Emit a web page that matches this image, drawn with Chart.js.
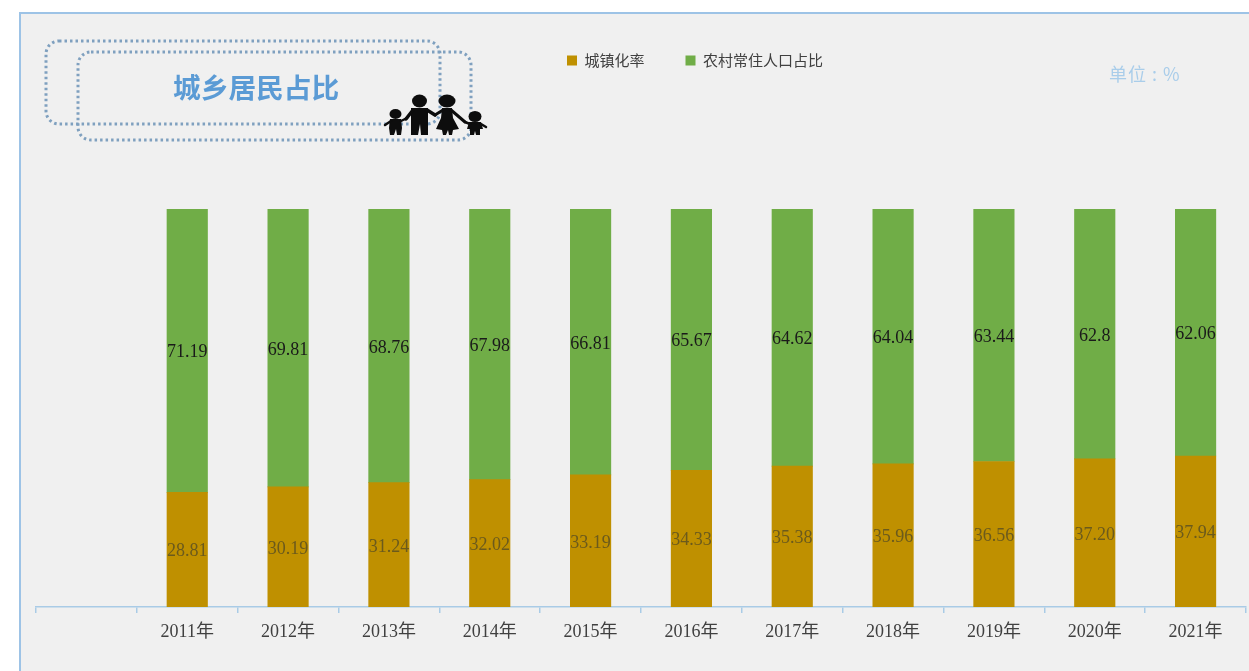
<!DOCTYPE html>
<html lang="zh">
<head>
<meta charset="utf-8">
<title>城乡居民占比</title>
<style>
html,body{margin:0;padding:0;background:#fff;overflow:hidden}
canvas{display:block;filter:blur(0.45px)}
</style>
<script src="https://cdn.jsdelivr.net/npm/chart.js@4"></script>
</head>
<body>
<canvas id="c" width="1249" height="671"></canvas>
<script>
const categories = ['', '2011年','2012年','2013年','2014年','2015年','2016年','2017年','2018年','2019年','2020年','2021年'];
const urbanRate = [null,28.81,30.19,31.24,32.02,33.19,34.33,35.38,35.96,36.56,37.20,37.94];
const ruralShare = [null,71.19,69.81,68.76,67.98,66.81,65.67,64.62,64.04,63.44,62.8,62.06];
const seriesNames = ['城镇化率','农村常住人口占比'];
const chartTitle = '城乡居民占比';
const unitText = '单位 : %';

const SERIF = '"Liberation Serif","Noto Sans CJK SC",serif';
const CJK = '"Noto Sans CJK SC",sans-serif';

function dottedRound(ctx,x,y,w,h,r){
  ctx.save();
  ctx.strokeStyle='#7fa0bf';ctx.lineWidth=3;ctx.setLineDash([2.5,3]);
  ctx.beginPath();ctx.roundRect(x,y,w,h,r);ctx.stroke();
  ctx.restore();
}
function family(ctx){
  ctx.save();
  ctx.fillStyle='#0d0d0d';ctx.strokeStyle='#0d0d0d';ctx.lineCap='round';
  const head=(x,y,rx,ry)=>{ctx.beginPath();ctx.ellipse(x,y,rx,ry,0,0,Math.PI*2);ctx.fill();};
  const poly=(p)=>{ctx.beginPath();p.forEach((q,i)=>i?ctx.lineTo(q[0],q[1]):ctx.moveTo(q[0],q[1]));ctx.closePath();ctx.fill();};
  const line=(a,b,c,d,w)=>{ctx.lineWidth=w;ctx.beginPath();ctx.moveTo(a,b);ctx.lineTo(c,d);ctx.stroke();};
  // left child
  head(395.5,114,6,5);
  poly([[390,119],[401,119],[402,128],[401,135],[397,135],[396,129],[394,135],[390,135],[389,128]]);
  line(391,121,385,125,2.5);line(401,121,407,118,2.5);
  // father
  head(419.5,101,7.5,6.5);
  poly([[411,108],[428,108],[428,135],[421,135],[420,124],[418,135],[411,135]]);
  line(413,110,406,119,3.5);line(427,110,435,115,3.5);
  // mother
  head(447,101,8.5,6.5);
  poly([[442,108],[452,108],[453,118],[459,129],[453,130],[452,135],[449,135],[448,130],[446,135],[443,135],[442,130],[436,129],[441,118]]);
  line(443,110,435,115,3);line(451,110,465,122,3);
  // right child
  head(475,116.5,6.5,5.5);
  poly([[469,122],[481,122],[483,129],[480,129],[480,135],[476,135],[475,131],[474,135],[470,135],[470,129],[467,129]]);
  line(470,124,465,122,2.5);line(481,124,486,127,2.5);
  ctx.restore();
}

const decor = {
  id:'decor',
  beforeDraw(chart){
    const ctx=chart.ctx;
    ctx.save();
    ctx.fillStyle='#ffffff';ctx.fillRect(0,0,1249,671);
    ctx.fillStyle='#f0f0f0';ctx.fillRect(20,13,1229,658);
    ctx.strokeStyle='#9dc3e6';ctx.lineWidth=2;
    ctx.beginPath();ctx.moveTo(20,671);ctx.lineTo(20,13);ctx.lineTo(1249,13);ctx.stroke();
    dottedRound(ctx,46,41,394,83,13);
    dottedRound(ctx,78,52,393,88,13);
    ctx.fillStyle='#5b9bd5';ctx.font='bold 27.7px '+CJK;
    ctx.textAlign='left';ctx.textBaseline='middle';
    ctx.fillText(chartTitle,173,87);
    ctx.fillStyle='#a9cdea';ctx.font='18px '+CJK;
    ctx.letterSpacing='1px';
    ctx.fillText(unitText,1109,74);
    ctx.letterSpacing='0px';
    family(ctx);
    ctx.restore();
  }
};
const moveLegend = {
  id:'moveLegend',
  afterLayout(chart){
    const l=chart.legend;
    const left=567-l.options.labels.padding, top=53-l.options.labels.padding;
    const dx=left-l.left, dy=top-l.top;
    l.left+=dx;l.right+=dx;l.top+=dy;l.bottom+=dy;
    l.legendHitBoxes.forEach(b=>{b.left+=dx;b.top+=dy;});
  }
};
const barValues = {
  id:'barValues',
  afterDatasetsDraw(chart){
    const ctx=chart.ctx;
    ctx.save();
    ctx.font='18px '+SERIF;ctx.textAlign='center';ctx.textBaseline='middle';
    chart.data.datasets.forEach((ds,i)=>{
      ctx.fillStyle=i===0?'#6b5a1c':'#1a1a1a';
      chart.getDatasetMeta(i).data.forEach((bar,k)=>{
        const v=ds.data[k];
        if(v==null)return;
        const p=bar.getProps(['x','y','base'],true);
        ctx.fillText(i===0?v.toFixed(2):String(v),p.x,(p.y+p.base)/2+2);
      });
    });
    ctx.restore();
  }
};

new Chart(document.getElementById('c'),{
  type:'bar',
  data:{
    labels:categories,
    datasets:[
      {label:seriesNames[0],data:urbanRate,backgroundColor:'#bf9000',barThickness:40.5,stack:'a'},
      {label:seriesNames[1],data:ruralShare,backgroundColor:'#70ad47',barThickness:40.5,stack:'a'}
    ]
  },
  options:{
    responsive:false,animation:false,
    layout:{padding:{left:36,right:3,top:143,bottom:0}},
    plugins:{
      tooltip:{enabled:false},
      legend:{
        display:true,position:'top',align:'start',
        labels:{boxWidth:10,boxHeight:10,padding:41,color:'#404040',font:{size:15,family:CJK}}
      }
    },
    scales:{
      x:{
        stacked:true,
        offset:true,
        afterFit(s){s.height=64;},
        border:{color:'#a9cbe6',width:1.5},
        grid:{offset:true,drawOnChartArea:false,drawTicks:true,tickLength:6,color:'#a9cbe6',lineWidth:1.5},
        ticks:{autoSkip:false,maxRotation:0,minRotation:0,padding:8,color:'#404040',font:{size:18,family:SERIF}}
      },
      y:{stacked:true,display:false,min:0,max:100}
    }
  },
  plugins:[decor,moveLegend,barValues]
});
</script>
</body>
</html>
